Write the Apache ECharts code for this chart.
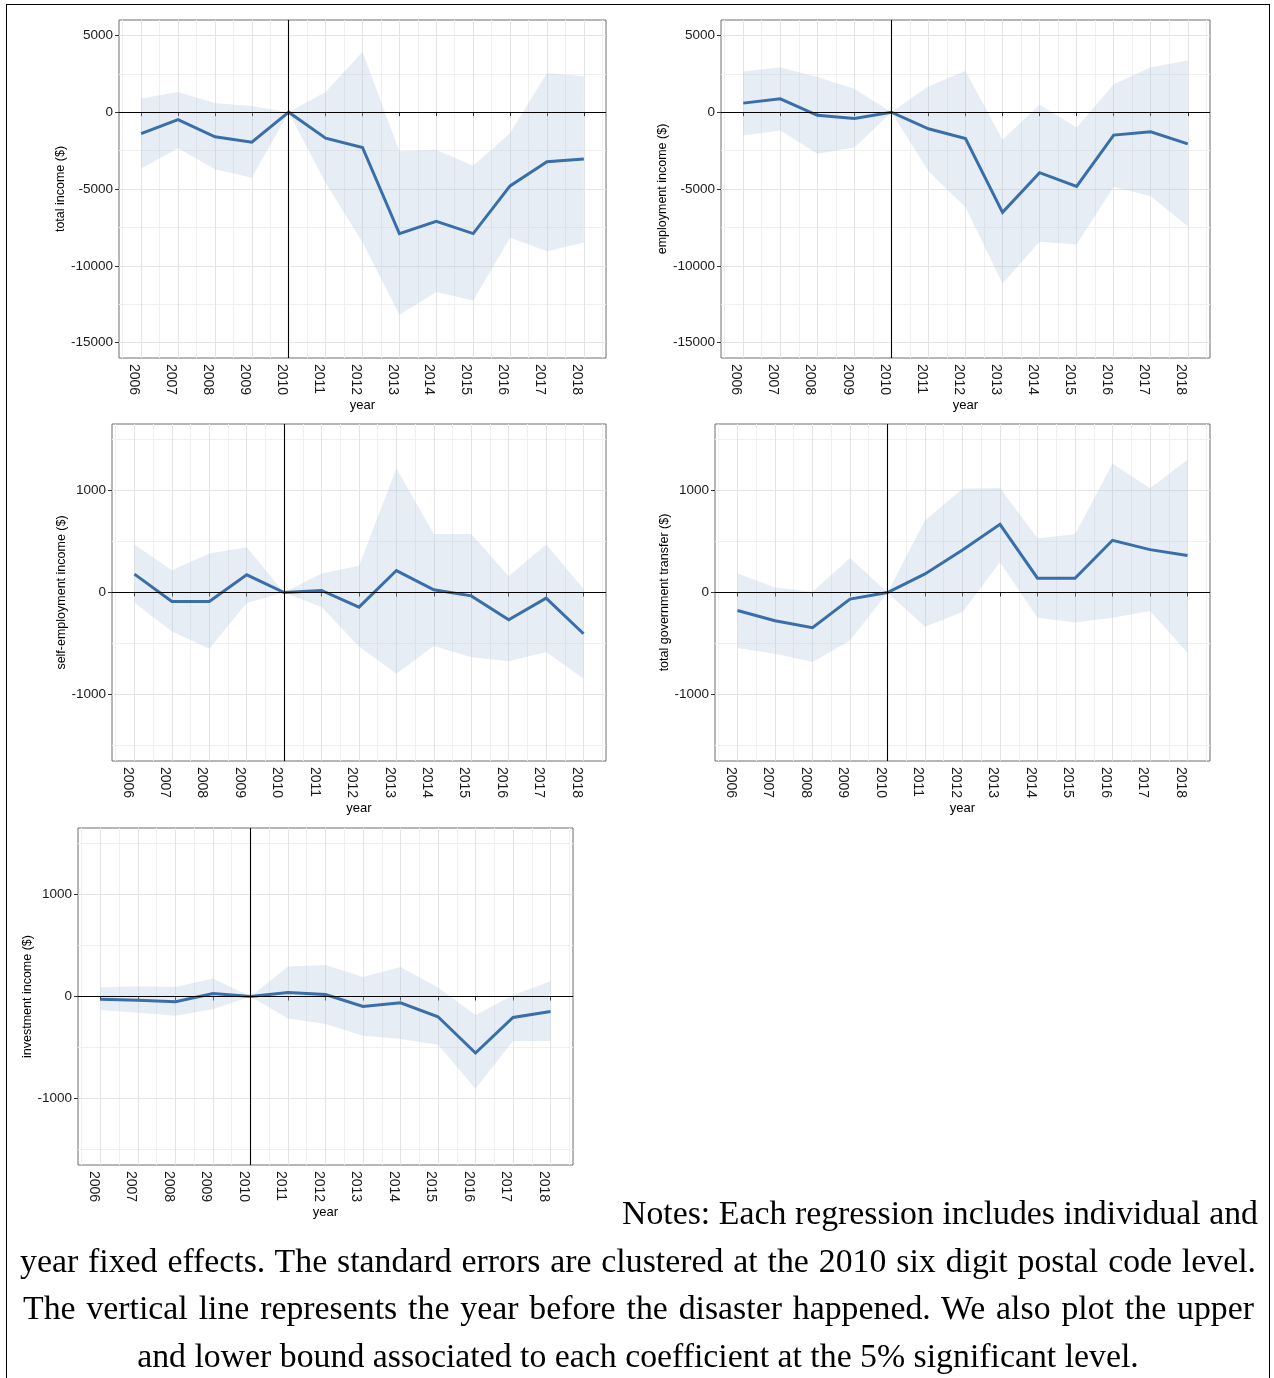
<!DOCTYPE html>
<html>
<head>
<meta charset="utf-8">
<script src="https://cdn.jsdelivr.net/npm/echarts@6/dist/echarts.min.js"></script>
<style>
  html, body { margin: 0; padding: 0; background: #fff; }
  #wrap { position: relative; width: 1274px; height: 1378px; overflow: hidden; }
  #chart { position: absolute; left: 0; top: 0; width: 1274px; height: 1378px; }
  #frame { position: absolute; left: 6px; top: 4px; width: 1264px; height: 1400px;
           border: 1.6px solid #000; border-bottom: none; box-sizing: border-box; }
  .note { position: absolute; font-family: "Liberation Serif", "DejaVu Serif", serif;
          color: #000; white-space: nowrap; height: 48px; line-height: 48px; }
  .just { text-align: justify; text-align-last: justify; }
  .cent { text-align: center; }
</style>
</head>
<body>
<div id="wrap">
  <div id="chart"></div>
  <div id="frame"></div>
  <div class="note just" id="n1" style="left:622px; top:1189px; width:636px;">Notes: Each regression includes individual and</div>
  <div class="note just" id="n2" style="left:20px; top:1237px; width:1236px;">year fixed effects. The standard errors are clustered at the 2010 six digit postal code level.</div>
  <div class="note just" id="n3" style="left:23px; top:1284px; width:1231px;">The vertical line represents the year before the disaster happened. We also plot the upper</div>
  <div class="note cent" id="n4" style="left:20px; top:1332px; width:1236px;">and lower bound associated to each coefficient at the 5% significant level.</div>
</div>
<script>
// Event-study coefficients by year (2010 = reference year), with 95% bounds
const years = [2006, 2007, 2008, 2009, 2010, 2011, 2012, 2013, 2014, 2015, 2016, 2017, 2018];
const halfYears = [2005.5, 2006.5, 2007.5, 2008.5, 2009.5, 2010.5, 2011.5, 2012.5, 2013.5, 2014.5, 2015.5, 2016.5, 2017.5, 2018.5];

const largeTicks = [-15000, -10000, -5000, 0, 5000];
const largeMinorTicks = [-12500, -7500, -2500, 2500];
const smallTicks = [-1000, 0, 1000];
const smallMinorTicks = [-1500, -500, 500, 1500];

const totalIncome      = [-1400, -480, -1600, -1950, 0, -1690, -2300, -7900, -7100, -7900, -4800, -3230, -3050];
const totalIncomeUpper = [890, 1320, 590, 410, 0, 1320, 3940, -2550, -2450, -3480, -1360, 2550, 2340];
const totalIncomeLower = [-3660, -2340, -3720, -4260, 0, -4610, -8460, -13180, -11710, -12250, -8180, -9050, -8480];

const employmentIncome      = [590, 870, -200, -410, 0, -1080, -1710, -6520, -3940, -4830, -1490, -1280, -2060];
const employmentIncomeUpper = [2640, 2920, 2290, 1520, 0, 1690, 2680, -1800, 480, -1000, 1820, 2920, 3360];
const employmentIncomeLower = [-1520, -1190, -2710, -2300, 0, -3850, -6190, -11150, -8440, -8620, -4850, -5480, -7430];

const selfEmployment      = [180, -88, -88, 173, 0, 20, -143, 215, 26, -33, -267, -55, -404];
const selfEmploymentUpper = [469, 218, 381, 443, 0, 186, 261, 1215, 573, 573, 160, 469, 36];
const selfEmploymentLower = [-101, -381, -550, -104, 0, -143, -528, -795, -524, -635, -674, -583, -844];

const govTransfer      = [-176, -277, -345, -65, 0, 182, 417, 668, 140, 140, 511, 420, 362];
const govTransferUpper = [186, 49, 7, 339, 0, 704, 1016, 1023, 531, 570, 1261, 1020, 1300];
const govTransferLower = [-544, -599, -681, -469, 0, -336, -192, 296, -248, -293, -248, -182, -590];

const investment      = [-26, -36, -52, 29, 0, 39, 20, -98, -62, -198, -553, -205, -146];
const investmentUpper = [88, 101, 94, 176, 0, 293, 309, 192, 289, 88, -182, 13, 150];
const investmentLower = [-133, -159, -189, -124, 0, -215, -270, -384, -416, -472, -904, -436, -436];

const panels = [
  { title: 'total income ($)', est: totalIncome, up: totalIncomeUpper, lo: totalIncomeLower,
    box: { left: 119, top: 20, width: 487, height: 338 }, range: [-16000, 6000],
    ticks: largeTicks, minor: largeMinorTicks, nameGap: 51 },
  { title: 'employment income ($)', est: employmentIncome, up: employmentIncomeUpper, lo: employmentIncomeLower,
    box: { left: 721, top: 20, width: 489, height: 338 }, range: [-16000, 6000],
    ticks: largeTicks, minor: largeMinorTicks, nameGap: 51 },
  { title: 'self-employment income ($)', est: selfEmployment, up: selfEmploymentUpper, lo: selfEmploymentLower,
    box: { left: 112, top: 424, width: 494, height: 337 }, range: [-1650, 1650],
    ticks: smallTicks, minor: smallMinorTicks, nameGap: 44 },
  { title: 'total government transfer ($)', est: govTransfer, up: govTransferUpper, lo: govTransferLower,
    box: { left: 715, top: 424, width: 495, height: 337 }, range: [-1650, 1650],
    ticks: smallTicks, minor: smallMinorTicks, nameGap: 44 },
  { title: 'investment income ($)', est: investment, up: investmentUpper, lo: investmentLower,
    box: { left: 78, top: 828, width: 495, height: 337 }, range: [-1650, 1650],
    ticks: smallTicks, minor: smallMinorTicks, nameGap: 44 }
];

const FONT = '"Liberation Sans", Arial, Helvetica, sans-serif';
const LINE_COLOR = '#3a6ea8';
const RIBBON_FILL = 'rgba(176,196,222,0.3)';
const X_MIN = 2005.4, X_MAX = 2018.6;

const grid = [], xAxis = [], yAxis = [], series = [];

panels.forEach(function (p, i) {
  grid.push(Object.assign({
    show: true, borderColor: '#6e6e6e', borderWidth: 1, backgroundColor: 'transparent',
    containLabel: false
  }, p.box));

  // major x axis: year ticks, labels and grid lines
  xAxis.push({
    type: 'value', gridIndex: i, min: X_MIN, max: X_MAX, position: 'bottom',
    name: 'year', nameLocation: 'middle', nameGap: 40,
    nameTextStyle: { color: '#000', fontSize: 13, fontFamily: FONT },
    axisLine: { show: false },
    axisTick: { show: true, length: 4, lineStyle: { color: '#333', width: 1 }, customValues: years },
    axisLabel: { show: true, customValues: years, rotate: -90, align: 'left', verticalAlign: 'top',
                 margin: 6, color: '#1a1a1a', fontSize: 14, fontFamily: FONT,
                 formatter: function (v) { return String(Math.round(v)); } },
    splitLine: { show: true, lineStyle: { color: '#e4e4e4', width: 1 } },
    z: 1
  });
  // minor x grid at half years
  xAxis.push({
    type: 'value', gridIndex: i, min: X_MIN, max: X_MAX, position: 'top',
    axisLine: { show: false }, axisLabel: { show: false },
    axisTick: { show: false, customValues: halfYears },
    splitLine: { show: true, lineStyle: { color: '#f0f0f0', width: 1 } },
    z: 0
  });

  yAxis.push({
    type: 'value', gridIndex: i, min: p.range[0], max: p.range[1], position: 'left',
    name: p.title, nameLocation: 'middle', nameGap: p.nameGap, nameRotate: 90,
    nameTextStyle: { color: '#000', fontSize: 12.5, fontFamily: FONT },
    axisLine: { show: false },
    axisTick: { show: true, length: 4, lineStyle: { color: '#333', width: 1 }, customValues: p.ticks },
    axisLabel: { show: true, customValues: p.ticks, margin: 6, color: '#1a1a1a', fontSize: 13.5, fontFamily: FONT,
                 formatter: function (v) { return String(Math.round(v)); } },
    splitLine: { show: true, lineStyle: { color: '#e4e4e4', width: 1 } },
    z: 1
  });
  yAxis.push({
    type: 'value', gridIndex: i, min: p.range[0], max: p.range[1], position: 'right',
    axisLine: { show: false }, axisLabel: { show: false },
    axisTick: { show: false, customValues: p.minor },
    splitLine: { show: true, lineStyle: { color: '#f0f0f0', width: 1 } },
    z: 0
  });

  const xi = 2 * i, yi = 2 * i;

  // confidence band as one polygon: upper bound left-to-right, lower bound back
  series.push({
    type: 'custom', xAxisIndex: xi, yAxisIndex: yi, silent: true, z: 2, clip: true,
    data: [[years[0], p.lo[0]]],
    renderItem: function (params, api) {
      const pts = [];
      for (let k = 0; k < years.length; k++) pts.push(api.coord([years[k], p.up[k]]));
      for (let k = years.length - 1; k >= 0; k--) pts.push(api.coord([years[k], p.lo[k]]));
      return { type: 'polygon', shape: { points: pts }, style: { fill: RIBBON_FILL, stroke: null } };
    }
  });

  // point estimates
  series.push({
    type: 'line', xAxisIndex: xi, yAxisIndex: yi, silent: true, z: 3,
    data: years.map(function (y, k) { return [y, p.est[k]]; }),
    showSymbol: false, symbol: 'none',
    lineStyle: { color: LINE_COLOR, width: 3, join: 'miter' },
    animation: false
  });

  // zero line and reference-year line
  series.push({
    type: 'line', xAxisIndex: xi, yAxisIndex: yi, silent: true, z: 4, data: [],
    markLine: {
      silent: true, symbol: ['none', 'none'], animation: false,
      label: { show: false },
      lineStyle: { color: '#000', width: 1.1, type: 'solid' },
      emphasis: { disabled: true },
      data: [{ yAxis: 0 }, { xAxis: 2010 }]
    }
  });
});

const chart = echarts.init(document.getElementById('chart'), null, { renderer: 'canvas' });
chart.setOption({
  animation: false,
  backgroundColor: '#fff',
  grid: grid, xAxis: xAxis, yAxis: yAxis, series: series
});

// size the notes so that the centred last line spans its measured width
(function () {
  const c = document.createElement('canvas').getContext('2d');
  const fam = '"Liberation Serif", "DejaVu Serif", serif';
  c.font = '30px ' + fam;
  const w = c.measureText(document.getElementById('n4').textContent).width;
  const size = 30 * 1002 / w;
  ['n1', 'n2', 'n3', 'n4'].forEach(function (id) {
    document.getElementById(id).style.fontSize = size.toFixed(2) + 'px';
  });
})();
</script>
</body>
</html>
